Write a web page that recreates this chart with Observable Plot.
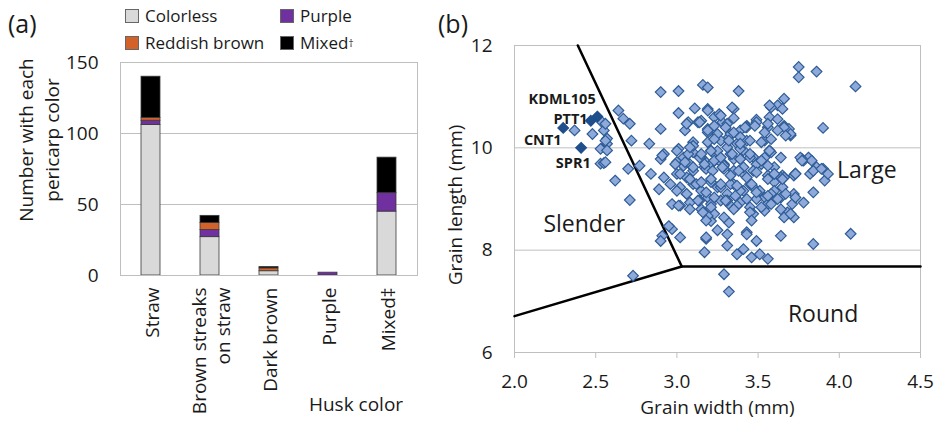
<!DOCTYPE html>
<html><head><meta charset="utf-8">
<script src="https://cdn.jsdelivr.net/npm/d3@7"></script>
<script src="https://cdn.jsdelivr.net/npm/@observablehq/plot@0.6"></script>
<style>
body{margin:0;background:#fff;font-family:"Open Sans",sans-serif;color:#1a1a1a;}
#wrap{position:relative;width:947px;height:425px;overflow:hidden;}
#pa{position:absolute;left:0;top:0;}
#pb{position:absolute;left:440px;top:0;}
.plabel{position:absolute;font-size:25px;line-height:1;}
#legend{position:absolute;left:125px;top:2px;display:grid;grid-template-columns:155px auto;grid-auto-rows:27px;font-size:17px;}
.lg{display:flex;align-items:center;white-space:nowrap;}
.sw{display:inline-block;width:12px;height:12px;margin-right:6px;border:1px solid #666;}
sup{font-size:10px;vertical-align:8px;line-height:0;}
</style></head><body>
<div id="wrap">
<div id="pa"></div><div id="pb"></div>
<div id="legend"></div>
<div class="plabel" style="left:8px;top:11px">(a)</div>
<div class="plabel" style="left:438px;top:11px">(b)</div>
</div>
<script>
// ---------- Panel (a) data ----------
const huskColors = ["Straw", "Brown streaks\non straw", "Dark brown", "Purple", "Mixed\u2021"];
const pericarpSeries = ["Colorless", "Purple", "Reddish brown", "Mixed"];
const pericarpLegend = ["Colorless", "Purple", "Reddish brown", "Mixed<sup>\u2020</sup>"];
const pericarpFill = ["#d9d9d9", "#7030a0", "#d2622a", "#000000"];
const colorless = [106, 27, 3, 0, 45];
const purple = [3, 5, 0, 2, 13];
const reddishBrown = [2, 5, 2, 0, 0];
const mixed = [29, 5, 1, 0, 25];
const yTicksA = [0, 50, 100, 150];

// ---------- Panel (b) data ----------
const grains = [
[2.37,10.34],[2.48,10.27],[2.54,10.50],[2.55,10.34],[2.57,10.18],[2.57,10.08],[2.53,9.98],[2.53,9.69],[2.55,9.70],[2.64,10.73],[2.62,9.36],
[3.75,11.58],[3.75,11.38],[3.86,11.49],[3.90,10.39],[2.90,11.09],[3.01,11.11],[3.16,11.23],[3.19,11.18],[3.38,11.11],[3.66,10.96],[3.62,10.83],
[3.58,10.79],[3.65,10.76],[2.67,10.57],[2.71,10.47],[3.01,10.68],[3.11,10.77],[3.19,10.76],[3.35,10.76],[3.35,10.58],[3.07,10.50],[3.15,10.53],
[3.23,10.60],[3.26,10.66],[3.28,10.50],[3.05,10.34],[2.90,10.37],[3.19,10.37],[3.23,10.27],[3.31,10.47],[3.32,10.21],[3.39,10.34],[3.43,10.43],
[3.49,10.55],[3.56,10.40],[3.57,10.60],[3.66,10.43],[3.70,10.24],[3.69,10.37],[3.54,10.14],[3.57,9.95],[3.37,10.08],[3.43,10.14],[3.27,10.14],
[3.21,9.95],[3.10,10.11],[3.01,9.98],[2.90,9.78],[2.92,9.88],[2.72,10.14],[2.83,10.08],[2.70,9.59],[2.56,10.47],[2.56,10.14],[2.57,9.95],
[3.04,9.81],[3.10,9.91],[3.17,9.75],[3.25,9.85],[3.29,9.68],[3.35,9.78],[3.41,9.95],[3.47,9.82],[3.52,9.68],[3.60,9.62],[3.65,9.46],[3.77,9.78],
[3.81,9.81],[3.82,9.49],[3.86,9.62],[3.90,9.59],[3.73,9.50],[3.91,9.36],[4.10,11.20],
[2.91,9.85],[3.00,9.72],[3.07,9.88],[3.15,9.81],[3.24,9.85],[3.27,9.72],[3.33,9.88],[3.39,9.78],[3.45,9.81],[3.49,9.68],[3.54,9.81],[3.58,9.91],
[3.76,9.81],[3.93,9.49],[3.84,9.55],[2.56,9.72],[2.77,9.65],[2.84,9.49],[2.92,9.42],[3.00,9.49],[3.04,9.65],[3.10,9.55],[3.17,9.62],[3.21,9.68],
[3.29,9.59],[3.35,9.55],[3.41,9.49],[3.47,9.55],[3.56,9.46],[3.64,9.42],[3.72,9.46],[3.60,9.33],[2.71,8.98],[2.89,9.19],[2.96,9.29],[3.02,9.23],
[3.06,9.10],[3.10,9.29],[3.15,9.16],[3.19,9.03],[3.25,9.23],[3.31,9.10],[3.35,9.29],[3.41,9.16],[3.47,9.23],[3.54,9.03],[3.60,9.16],[3.65,9.23],
[3.72,9.10],[3.78,8.93],[3.84,9.13],[2.97,8.90],[3.02,8.87],[3.08,8.93],[3.15,8.80],[3.21,8.90],[3.27,8.97],[3.33,8.87],[3.39,8.93],[3.45,8.84],
[3.49,9.00],[3.56,8.90],[3.68,8.74],[3.71,8.90],[3.66,8.64],[3.72,8.64],[3.21,8.57],[3.23,8.71],[2.97,8.41],[2.91,8.28],[2.90,8.18],[3.02,8.25],
[3.18,8.22],[3.25,8.39],[3.32,8.54],[3.31,8.31],[3.43,8.35],[3.49,8.18],[3.31,8.09],[3.17,7.96],[3.41,8.02],[3.37,7.92],[3.46,7.86],[3.56,7.83],
[3.51,7.92],[3.64,8.28],[3.84,8.12],[3.29,7.53],[2.73,7.50],[3.32,7.19],[4.07,8.32],[2.95,8.47],
[3.19,10.73],[3.27,10.63],[3.34,10.79],[3.13,10.50],[3.23,10.43],[3.43,10.40],[3.49,10.50],[3.57,10.83],[3.62,10.56],[3.66,10.40],[3.70,10.27],
[3.54,10.30],[3.39,10.21],[3.33,10.27],[3.19,10.30],[3.10,10.04],[3.19,10.11],[3.25,9.94],[3.31,10.01],[3.39,9.98],[3.14,9.81],[3.08,9.68],
[3.18,9.59],[3.23,9.75],[3.29,9.65],[3.41,9.62],[3.56,9.65],[3.60,9.49],[3.66,9.42],[3.06,9.42],[3.12,9.29],[3.21,9.33],[3.27,9.23],[3.33,9.29],
[3.39,9.16],[3.45,9.29],[3.51,9.16],[3.58,9.10],[3.64,9.03],[3.14,8.97],[3.31,8.97],[3.37,8.87],[3.47,8.71],[3.54,8.77],[3.19,8.67],[3.43,8.31],
[3.18,8.25],[3.78,9.75],[3.83,9.75],[3.89,9.59],
[3.06,10.47],[3.14,10.50],[3.19,10.34],[3.25,10.27],[3.30,10.40],[3.35,10.30],[3.42,10.40],[3.48,10.43],[3.56,10.47],[3.62,10.34],[3.67,10.24],
[3.58,10.17],[3.52,10.11],[3.45,10.14],[3.39,10.08],[3.32,10.14],[3.23,10.17],[3.00,9.94],[3.08,10.01],[3.15,9.88],[3.21,9.94],[3.27,9.81],
[3.34,9.88],[3.39,9.78],[3.45,9.88],[3.52,9.75],[3.57,9.94],[3.64,9.81],[2.99,9.68],[3.05,9.72],[3.10,9.62],[3.17,9.68],[3.22,9.55],[3.28,9.62],
[3.33,9.46],[3.38,9.55],[3.43,9.42],[3.49,9.52],[3.56,9.39],[3.60,9.49],[3.65,9.39],[3.73,9.49],[3.77,9.75],[3.02,9.49],[3.08,9.39],[3.15,9.33],
[3.21,9.39],[3.27,9.29],[3.37,9.26],[3.46,9.29],[3.00,9.16],[3.06,9.10],[3.13,8.97],[3.18,9.13],[3.23,9.03],[3.30,8.97],[3.36,9.06],[3.43,9.00],
[3.49,9.13],[3.56,9.06],[3.62,9.00],[3.67,9.10],[3.73,9.03],[3.01,8.87],[3.08,8.80],[3.16,8.74],[3.21,8.84],[3.29,8.64],[3.35,8.80],[3.45,8.74],
[3.52,8.84],[3.58,8.90],[3.64,8.80],[3.70,8.71],[3.46,8.58],[3.18,8.58]
];
const namedVarieties = ["KDML105", "PTT1", "CNT1", "SPR1"];
const namedWidth = [2.51, 2.47, 2.30, 2.41];
const namedLength = [10.61, 10.53, 10.39, 10.00];
const nameLabelWidth = [2.50, 2.45, 2.29, 2.47];
const nameLabelLength = [10.95, 10.56, 10.14, 9.69];
const upperBoundaryW = [2.39, 3.03];
const upperBoundaryL = [12, 7.68];
const lowerBoundaryW = [2.0, 3.03, 4.5];
const lowerBoundaryL = [6.71, 7.68, 7.68];
const regionNames = ["Slender", "Large", "Round"];
const regionW = [2.43, 4.17, 3.90];
const regionL = [8.50, 9.55, 6.74];
const xTicksB = [2.0, 2.5, 3.0, 3.5, 4.0, 4.5];
const yTicksB = [6, 8, 10, 12];

// ---------- legend ----------
const lg = document.getElementById("legend");
pericarpSeries.forEach((s, j) => {
  const d = document.createElement("div");
  d.className = "lg";
  d.innerHTML = `<span class="sw" style="background:${pericarpFill[j]}"></span>${pericarpLegend[j]}`;
  lg.appendChild(d);
});

// ---------- Panel (a) ----------
const seriesValues = [colorless, purple, reddishBrown, mixed];
const counts = [];
huskColors.forEach((h, i) => seriesValues.forEach((vals, j) => {
  if (vals[i] > 0) counts.push({husk: h, series: pericarpSeries[j], n: vals[i]});
}));
const font = "Open Sans";
const plotA = Plot.plot({
  width: 440, height: 425,
  marginLeft: 120, marginRight: 23, marginTop: 62, marginBottom: 150,
  style: {fontFamily: font, color: "#1a1a1a", background: "transparent"},
  x: {domain: huskColors, paddingInner: 0.68, paddingOuter: 0.34, label: null},
  y: {domain: [0, 150], label: null},
  color: {domain: pericarpSeries, range: pericarpFill},
  marks: [
    Plot.gridY([50, 100], {stroke: "#bfbfbf", strokeOpacity: 1}),
    Plot.barY(counts, {x: "husk", y: "n", fill: "series", order: pericarpSeries, stroke: "#3a3a3a", strokeWidth: 0.8}),
    Plot.frame({stroke: "#bfbfbf"}),
    Plot.axisY(yTicksA, {tickSize: 0, tickPadding: 22, fontSize: 19, tickFormat: "d"}),
    Plot.axisX({tickSize: 0, tickRotate: -90, tickPadding: 12, fontSize: 19, lineHeight: 1.3, label: null}),
    Plot.text(["Number with each\npericarp color"], {frameAnchor: "left", textAnchor: "middle", rotate: -90, dx: -83, dy: -29, fontSize: 19, lineHeight: 1.35}),
    Plot.text(["Husk color"], {frameAnchor: "bottom", dx: 87, dy: 135, fontSize: 19})
  ]
});
document.getElementById("pa").appendChild(plotA);

// ---------- Panel (b) ----------
const idx4 = d3.range(namedVarieties.length);
const plotB = Plot.plot({
  width: 507, height: 425,
  marginLeft: 74, marginRight: 27, marginTop: 45, marginBottom: 73,
  style: {fontFamily: font, color: "#1a1a1a", background: "transparent"},
  x: {domain: [2, 4.5], label: null},
  y: {domain: [6, 12], label: null},
  marks: [
    Plot.gridY([8, 10, 12], {stroke: "#bfbfbf", strokeOpacity: 1}),
    Plot.ruleX([2, 4.5], {stroke: "#bfbfbf"}),
    Plot.ruleY([6], {stroke: "#bfbfbf"}),
    Plot.axisY(yTicksB, {tickSize: 0, tickPadding: 22, fontSize: 19, tickFormat: "d"}),
    Plot.axisX(xTicksB, {tickSize: 6, stroke: "#bfbfbf", fill: "#1a1a1a", tickFormat: ".1f", tickPadding: 16, fontSize: 19}),
    Plot.text(["Grain width (mm)"], {frameAnchor: "bottom", dy: 61, fontSize: 19}),
    Plot.text(["Grain length (mm)"], {frameAnchor: "left", textAnchor: "middle", rotate: -90, dx: -59, dy: 6, fontSize: 19}),
    Plot.line(d3.range(upperBoundaryW.length), {x: i => upperBoundaryW[i], y: i => upperBoundaryL[i], stroke: "#000", strokeWidth: 2.5}),
    Plot.line(d3.range(lowerBoundaryW.length), {x: i => lowerBoundaryW[i], y: i => lowerBoundaryL[i], stroke: "#000", strokeWidth: 2.5}),
    Plot.dot(grains, {x: d => d[0], y: d => d[1], symbol: "diamond2", r: 4.8, fill: "#8eaadb", stroke: "#2f5c96", strokeWidth: 1.2}),
    Plot.text(idx4, {x: i => nameLabelWidth[i], y: i => nameLabelLength[i], text: i => namedVarieties[i], textAnchor: "end", fontSize: 14.5, fontWeight: "bold"}),
    Plot.dot(idx4, {x: i => namedWidth[i], y: i => namedLength[i], symbol: "diamond2", r: 4.8, fill: "#1f4e8c", stroke: "#1f4e8c", strokeWidth: 1.2}),
    Plot.text(d3.range(regionNames.length), {x: i => regionW[i], y: i => regionL[i], text: i => regionNames[i], fontSize: 23})
  ]
});
document.getElementById("pb").appendChild(plotB);
</script>
</body></html>
